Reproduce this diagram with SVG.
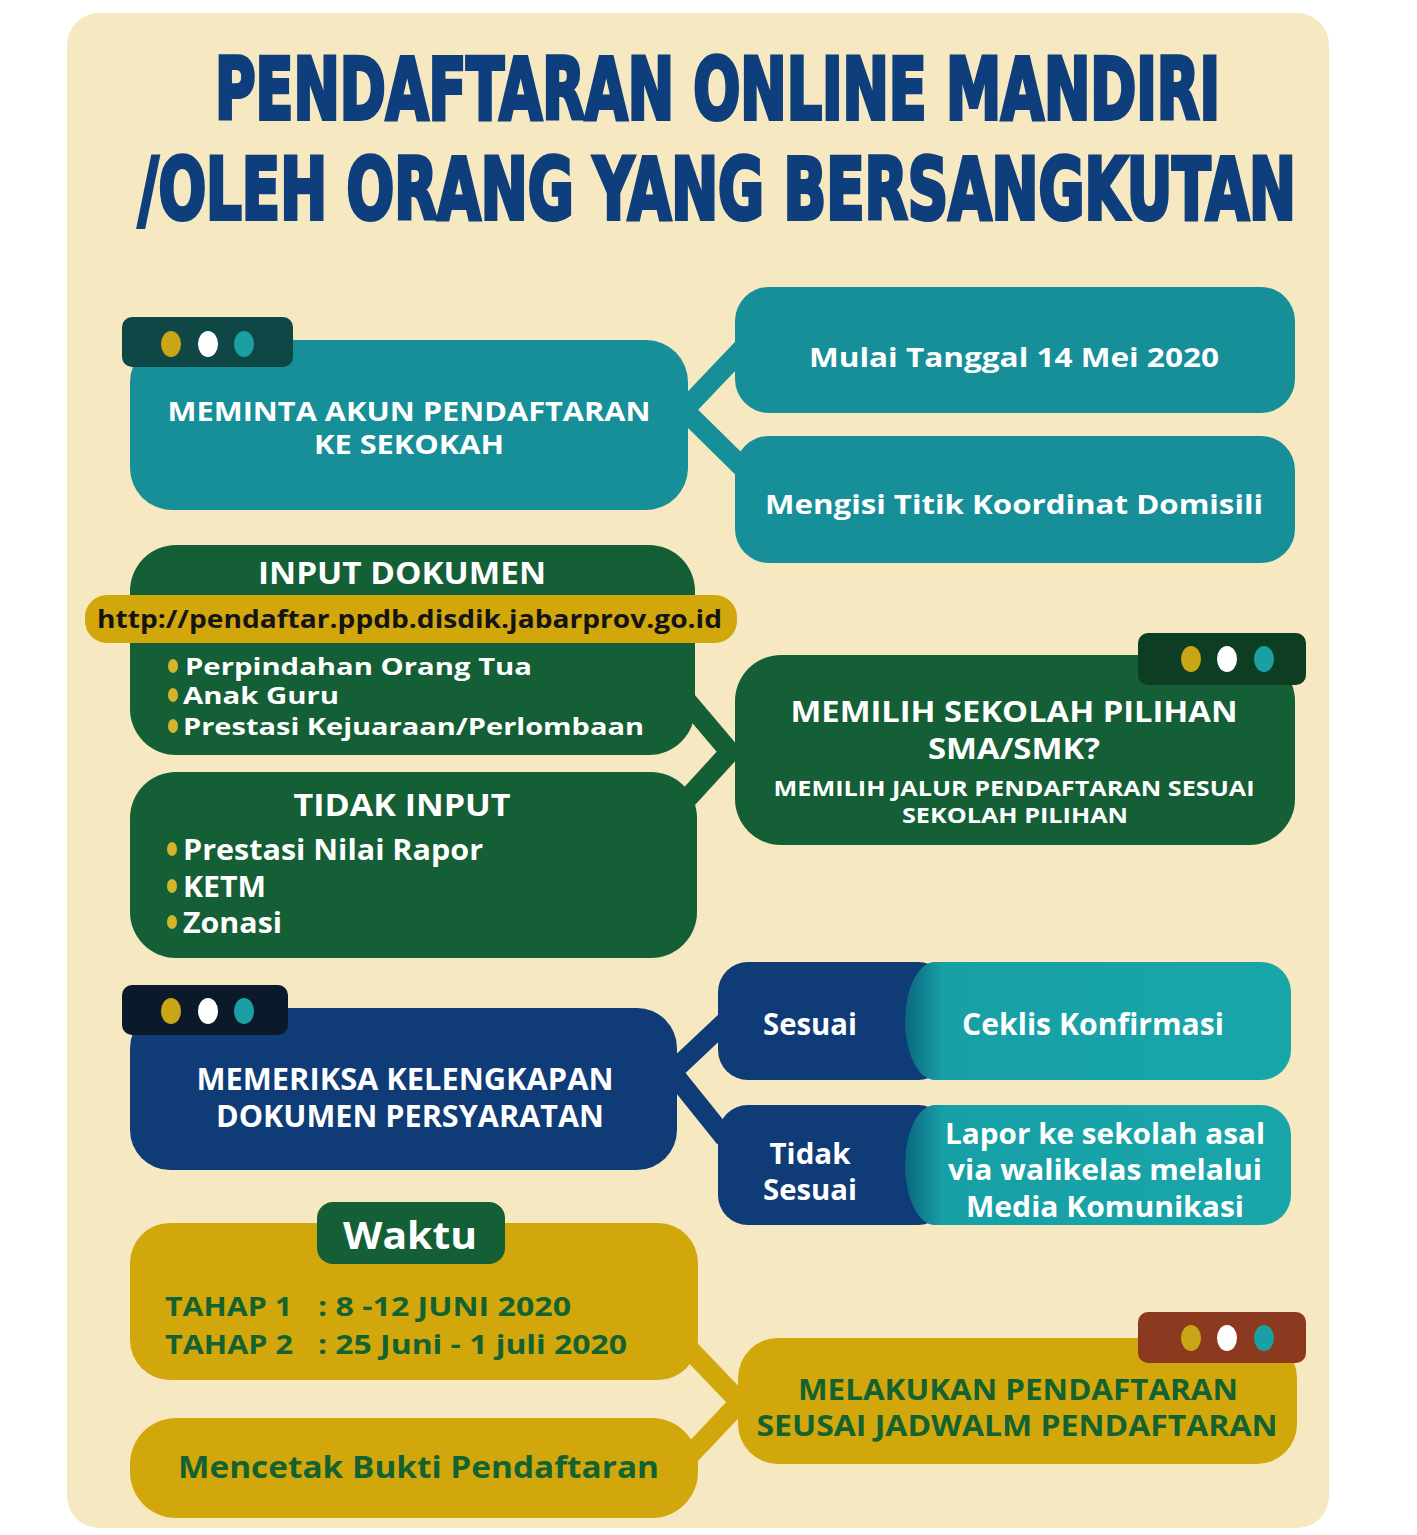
<svg xmlns="http://www.w3.org/2000/svg" width="1417" height="1535" viewBox="0 0 1417 1535">
<defs>
<style>
.t{font-family:"Open Sans","Noto Sans","DejaVu Sans",sans-serif;font-weight:700;}
.w{fill:#ffffff;}
.g{fill:#13622F;}
.c{text-anchor:middle;}
.title{font-family:"Liberation Sans Narrow","DejaVu Sans Condensed","Liberation Sans",sans-serif;font-weight:700;fill:#0E3E7C;stroke:#0E3E7C;stroke-width:4;stroke-linejoin:miter;font-size:86px;}
.teal{fill:#168F99;}
.green{fill:#145F36;}
.blue{fill:#0F3B76;}
.gold{fill:#D2A70C;}
.dy{fill:#C9A616;}
.dw{fill:#ffffff;}
.dt{fill:#1AA0A4;}
.bul{fill:#D2B52A;}
</style>
<linearGradient id="tg" x1="0" y1="0" x2="1" y2="0">
<stop offset="0" stop-color="#0A6880"/>
<stop offset="0.1" stop-color="#17A0A6"/>
<stop offset="1" stop-color="#19A6A9"/>
</linearGradient>
</defs>
<rect x="0" y="0" width="1417" height="1535" fill="#ffffff"/>
<rect x="67" y="13" width="1262" height="1515" rx="32" fill="#F6E8C0"/>

<g id="title">
<text class="title" x="215" y="119" textLength="1005" lengthAdjust="spacingAndGlyphs">PENDAFTARAN ONLINE MANDIRI</text>
<text class="title" x="138" y="219" textLength="1158" lengthAdjust="spacingAndGlyphs">/OLEH ORANG YANG BERSANGKUTAN</text>
</g>

<g id="connectors" fill="none" stroke-width="20" stroke-linecap="butt">
<polyline points="745,346 684,410 745,470" stroke="#168F99" stroke-linejoin="miter"/>
<polyline points="686,700 730,752 686,800" stroke="#145F36" stroke-linejoin="miter"/>
<polyline points="725,1022 672,1072 725,1138" stroke="#0F3B76" stroke-linejoin="miter"/>
<polyline points="690,1350 740,1402 690,1455" stroke="#D2A70C" stroke-linejoin="miter"/>
</g>

<g id="node-meminta">
<rect class="teal" x="130" y="340" width="558" height="170" rx="42"/>
<rect x="122" y="317" width="171" height="50" rx="10" fill="#0E4745"/>
<ellipse class="dy" cx="171" cy="344" rx="10" ry="13"/>
<ellipse class="dw" cx="208" cy="344" rx="10" ry="13"/>
<ellipse class="dt" cx="244" cy="344" rx="10" ry="13"/>
<text class="t w c" x="409" y="421" font-size="27" textLength="483" lengthAdjust="spacingAndGlyphs">MEMINTA AKUN PENDAFTARAN</text>
<text class="t w c" x="409" y="454" font-size="27" textLength="190" lengthAdjust="spacingAndGlyphs">KE SEKOKAH</text>
</g>

<g id="node-mulai">
<rect class="teal" x="735" y="287" width="560" height="126" rx="34"/>
<text class="t w c" x="1014" y="367" font-size="27" textLength="410" lengthAdjust="spacingAndGlyphs">Mulai Tanggal 14 Mei 2020</text>
</g>

<g id="node-mengisi">
<rect class="teal" x="735" y="436" width="560" height="127" rx="34"/>
<text class="t w c" x="1014" y="514" font-size="27" textLength="498" lengthAdjust="spacingAndGlyphs">Mengisi Titik Koordinat Domisili</text>
</g>

<g id="node-input">
<rect class="green" x="130" y="545" width="565" height="210" rx="46"/>
<text class="t w c" x="402" y="584" font-size="30" textLength="288" lengthAdjust="spacingAndGlyphs">INPUT DOKUMEN</text>
<rect class="gold" x="85" y="595" width="652" height="48" rx="22"/>
<text class="t" x="97" y="628" font-size="25" fill="#141414" textLength="625" lengthAdjust="spacingAndGlyphs">http://pendaftar.ppdb.disdik.jabarprov.go.id</text>
<ellipse class="bul" cx="173" cy="666" rx="5" ry="7"/>
<ellipse class="bul" cx="173" cy="695" rx="5" ry="7"/>
<ellipse class="bul" cx="173" cy="726" rx="5" ry="7"/>
<text class="t w" x="185" y="675" font-size="24" textLength="347" lengthAdjust="spacingAndGlyphs">Perpindahan Orang Tua</text>
<text class="t w" x="183" y="704" font-size="24" textLength="156" lengthAdjust="spacingAndGlyphs">Anak Guru</text>
<text class="t w" x="183" y="735" font-size="24" textLength="461" lengthAdjust="spacingAndGlyphs">Prestasi Kejuaraan/Perlombaan</text>
</g>

<g id="node-tidak-input">
<rect class="green" x="130" y="772" width="567" height="186" rx="46"/>
<text class="t w c" x="402" y="816" font-size="30" textLength="217" lengthAdjust="spacingAndGlyphs">TIDAK INPUT</text>
<ellipse class="bul" cx="172" cy="849" rx="5" ry="7"/>
<ellipse class="bul" cx="172" cy="886" rx="5" ry="7"/>
<ellipse class="bul" cx="172" cy="922" rx="5" ry="7"/>
<text class="t w" x="183" y="860" font-size="29" textLength="300" lengthAdjust="spacingAndGlyphs">Prestasi Nilai Rapor</text>
<text class="t w" x="183" y="897" font-size="29" textLength="83" lengthAdjust="spacingAndGlyphs">KETM</text>
<text class="t w" x="183" y="933" font-size="29" textLength="99" lengthAdjust="spacingAndGlyphs">Zonasi</text>
</g>

<g id="node-memilih">
<rect class="green" x="735" y="655" width="560" height="190" rx="46"/>
<rect x="1138" y="633" width="168" height="52" rx="10" fill="#0D3D22"/>
<ellipse class="dy" cx="1191" cy="659" rx="10" ry="13"/>
<ellipse class="dw" cx="1227" cy="659" rx="10" ry="13"/>
<ellipse class="dt" cx="1264" cy="659" rx="10" ry="13"/>
<text class="t w c" x="1014" y="722" font-size="29" textLength="447" lengthAdjust="spacingAndGlyphs">MEMILIH SEKOLAH PILIHAN</text>
<text class="t w c" x="1014" y="759" font-size="29" textLength="172" lengthAdjust="spacingAndGlyphs">SMA/SMK?</text>
<text class="t w c" x="1014" y="796" font-size="22" textLength="481" lengthAdjust="spacingAndGlyphs">MEMILIH JALUR PENDAFTARAN SESUAI</text>
<text class="t w c" x="1015" y="823" font-size="22" textLength="226" lengthAdjust="spacingAndGlyphs">SEKOLAH PILIHAN</text>
</g>

<g id="node-memeriksa">
<rect class="blue" x="130" y="1008" width="547" height="162" rx="40"/>
<rect x="122" y="985" width="166" height="50" rx="10" fill="#0A1A2B"/>
<ellipse class="dy" cx="171" cy="1011" rx="10" ry="13"/>
<ellipse class="dw" cx="208" cy="1011" rx="10" ry="13"/>
<ellipse class="dt" cx="244" cy="1011" rx="10" ry="13"/>
<text class="t w c" x="405" y="1090" font-size="30" textLength="417" lengthAdjust="spacingAndGlyphs">MEMERIKSA KELENGKAPAN</text>
<text class="t w c" x="410" y="1127" font-size="30" textLength="388" lengthAdjust="spacingAndGlyphs">DOKUMEN PERSYARATAN</text>
</g>

<g id="node-sesuai">
<rect class="blue" x="718" y="962" width="230" height="118" rx="30"/>
<path d="M935 962 H1261 A30 30 0 0 1 1291 992 V1050 A30 30 0 0 1 1261 1080 H935 A30 59 0 0 1 935 962 Z" fill="url(#tg)"/>
<text class="t w c" x="810" y="1035" font-size="30" textLength="94" lengthAdjust="spacingAndGlyphs">Sesuai</text>
<text class="t w" x="962" y="1035" font-size="30" textLength="262" lengthAdjust="spacingAndGlyphs">Ceklis Konfirmasi</text>
</g>

<g id="node-tidak-sesuai">
<rect class="blue" x="718" y="1105" width="230" height="120" rx="30"/>
<path d="M935 1105 H1261 A30 30 0 0 1 1291 1135 V1195 A30 30 0 0 1 1261 1225 H935 A30 60 0 0 1 935 1105 Z" fill="url(#tg)"/>
<text class="t w c" x="810" y="1164" font-size="29" textLength="81" lengthAdjust="spacingAndGlyphs">Tidak</text>
<text class="t w c" x="810" y="1200" font-size="29" textLength="94" lengthAdjust="spacingAndGlyphs">Sesuai</text>
<text class="t w c" x="1105" y="1144" font-size="29" textLength="320" lengthAdjust="spacingAndGlyphs">Lapor ke sekolah asal</text>
<text class="t w c" x="1105" y="1180" font-size="29" textLength="314" lengthAdjust="spacingAndGlyphs">via walikelas melalui</text>
<text class="t w c" x="1105" y="1217" font-size="29" textLength="278" lengthAdjust="spacingAndGlyphs">Media Komunikasi</text>
</g>

<g id="node-waktu">
<rect class="gold" x="130" y="1223" width="568" height="157" rx="40"/>
<rect class="green" x="317" y="1202" width="188" height="62" rx="16"/>
<text class="t w c" x="410" y="1249" font-size="38" textLength="134" lengthAdjust="spacingAndGlyphs">Waktu</text>
<text class="t g" x="165" y="1316" font-size="27" textLength="127" lengthAdjust="spacingAndGlyphs">TAHAP 1</text>
<text class="t g" x="318" y="1316" font-size="27" textLength="253" lengthAdjust="spacingAndGlyphs">: 8 -12 JUNI 2020</text>
<text class="t g" x="165" y="1354" font-size="27" textLength="128" lengthAdjust="spacingAndGlyphs">TAHAP 2</text>
<text class="t g" x="318" y="1354" font-size="27" textLength="309" lengthAdjust="spacingAndGlyphs">: 25 Juni - 1 juli 2020</text>
</g>

<g id="node-mencetak">
<rect class="gold" x="130" y="1418" width="568" height="100" rx="46"/>
<text class="t g" x="178" y="1478" font-size="30" textLength="481" lengthAdjust="spacingAndGlyphs">Mencetak Bukti Pendaftaran</text>
</g>

<g id="node-melakukan">
<rect class="gold" x="738" y="1338" width="559" height="126" rx="40"/>
<rect x="1138" y="1312" width="168" height="51" rx="10" fill="#8B3A20"/>
<ellipse class="dy" cx="1191" cy="1338" rx="10" ry="13"/>
<ellipse class="dw" cx="1227" cy="1338" rx="10" ry="13"/>
<ellipse class="dt" cx="1264" cy="1338" rx="10" ry="13"/>
<text class="t g c" x="1018" y="1400" font-size="29" textLength="440" lengthAdjust="spacingAndGlyphs">MELAKUKAN PENDAFTARAN</text>
<text class="t g c" x="1017" y="1436" font-size="29" textLength="521" lengthAdjust="spacingAndGlyphs">SEUSAI JADWALM PENDAFTARAN</text>
</g>
</svg>
